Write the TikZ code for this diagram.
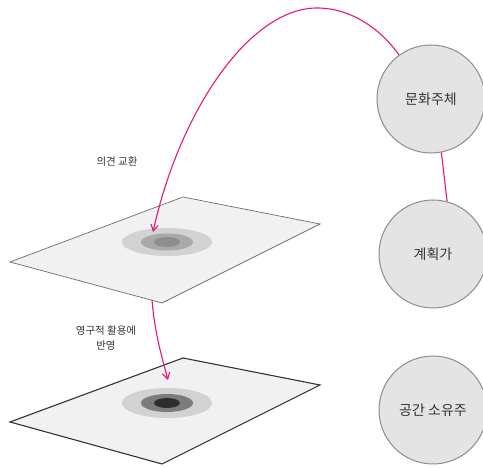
\documentclass[tikz,border=0pt]{standalone}
\usepackage{fontspec}
\setmainfont{Noto Sans CJK KR}
\usepackage{tikz}
\usetikzlibrary{arrows.meta,positioning}
\definecolor{Ink}{HTML}{333333}
\definecolor{Edge}{HTML}{8C8C8C}
\definecolor{Disc}{HTML}{E4E4E4}
\definecolor{Sheet}{HTML}{F1F1F1}
\definecolor{Pink}{HTML}{E3177D}
\definecolor{RingA}{HTML}{D2D2D2}
\definecolor{RingB}{HTML}{A9A9A9}
\definecolor{RingC}{HTML}{8E8E8E}
\definecolor{RingD}{HTML}{7C7C7C}
\definecolor{RingE}{HTML}{2E2E2E}

\begin{document}
\begin{tikzpicture}[x=1pt,y=1pt,
  actor/.style={circle,draw=Edge,fill=Disc,line width=1pt,minimum size=108pt,inner sep=0pt,
    font=\fontsize{14}{17}\selectfont,text=Ink},
  note/.style={align=center,font=\fontsize{10.5}{15}\selectfont,text=Ink},
  arr/.style={-{Straight Barb[length=2.2mm,width=2.6mm]},line width=1.1pt,color=Pink},
  link/.style={line width=1.1pt,color=Pink}]
\useasboundingbox (0,0) rectangle (483,468);
% planes
\coordinate (t1) at (183,271); \coordinate (t2) at (320,244);
\coordinate (t3) at (162,165); \coordinate (t4) at (10,206);
\coordinate (b1) at (183,110); \coordinate (b2) at (320,83);
\coordinate (b3) at (162,4); \coordinate (b4) at (10,46);
\draw[fill=Sheet,draw=gray!85!black,line width=0.7pt] (t1)--(t2)--(t3)--(t4)--cycle;
\draw[fill=Sheet,draw=black!80,line width=1.1pt] (b1)--(b2)--(b3)--(b4)--cycle;
\fill[RingA] (167,226) ellipse (45 and 14);
\fill[RingB] (167,226) ellipse (26 and 8.5);
\fill[RingC] (167,226) ellipse (13 and 5);
\fill[RingA] (167,65) ellipse (45 and 15);
\fill[RingD] (167,65) ellipse (26 and 9);
\fill[RingE] (167,65) ellipse (13 and 5);
% actors
\node[actor] (culture) at (431,369) {문화주체};
\node[actor] (planner) at (433,214) {계획가};
\node[actor] (owner) at (433,58) {공간 소유주};
% labels
\node[note] (exch) at (117,306) {의견 교환};
\node[note] (perm) at (106,130) {영구적 활용에\\반영};
% connectors
\coordinate (apex) at (317,460);
\coordinate (hit1) at (153,236);
\coordinate (from2) at (152,168);
\coordinate (hit2) at (168,88);
\draw[link] (culture.281) -- (planner.75);
\draw[arr] (culture.126) .. controls (380,440) and (350,460) .. (apex)
  .. controls (250,460) and (180,358) .. (hit1);
\draw[arr] (from2) to[out=-85,in=105] (hit2);
\end{tikzpicture}
\end{document}
